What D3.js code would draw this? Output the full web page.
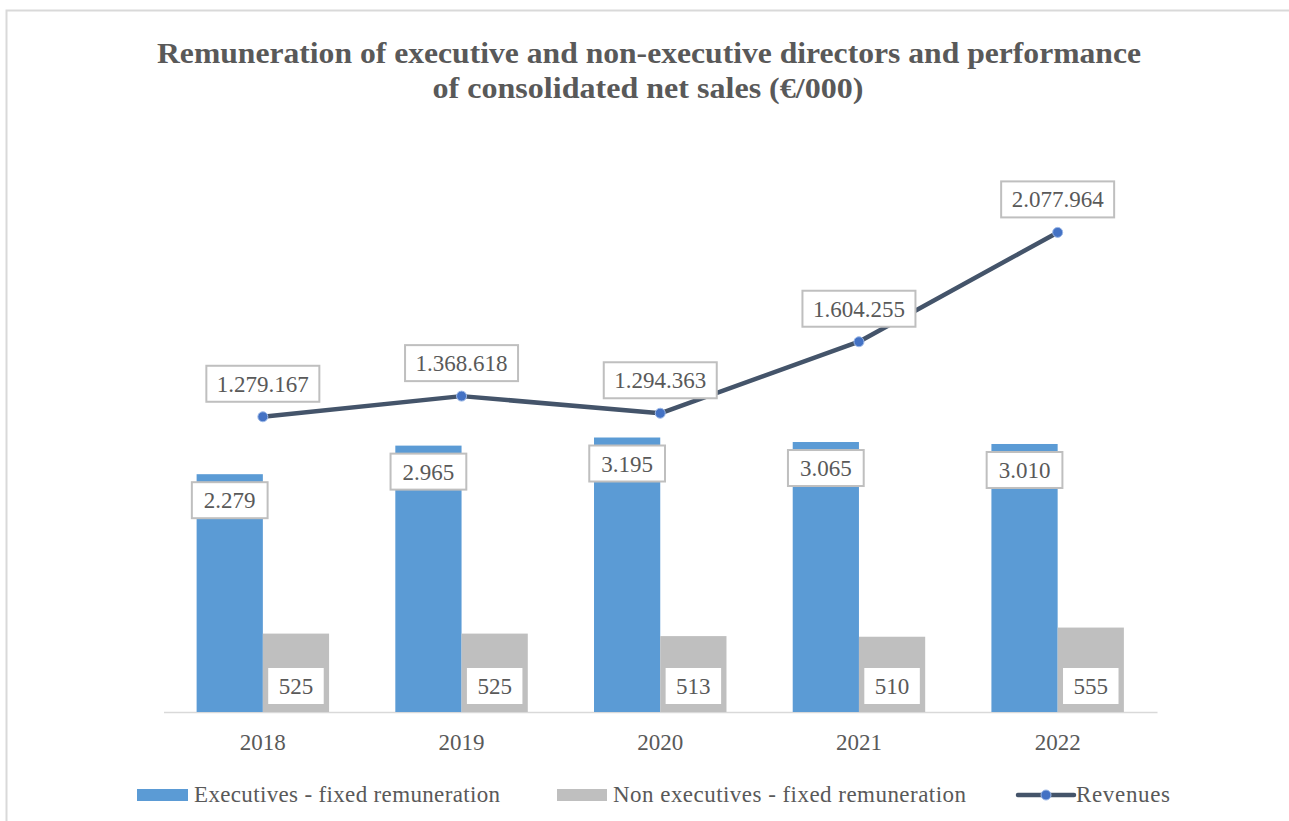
<!DOCTYPE html>
<html lang="en">
<head>
    <meta charset="UTF-8">
    <title>Remuneration of directors and net sales</title>
    <script src="https://d3js.org/d3.v7.min.js"></script>
    <style>
        html, body {
            margin: 0;
            padding: 0;
            background: #fff;
        }
        svg text {
            font-family: "Liberation Serif", "Times New Roman", serif;
            fill: #595959;
        }
    </style>
</head>
<body>
    <svg id="chart" width="1289" height="821"></svg>

    <script>
        // data (€/000)
        const years = ["2018", "2019", "2020", "2021", "2022"];
        const executives = [2279, 2965, 3195, 3065, 3010];
        const nonExecutives = [525, 525, 513, 510, 555];
        const revenues = [1279167, 1368618, 1294363, 1604255, 2077964];
        const seriesNames = ["Executives - fixed remuneration", "Non executives - fixed remuneration", "Revenues"];
        const titleLines = [
            "Remuneration of executive and non-executive directors and performance",
            "of consolidated net sales (€/000)"
        ];

        const colors = { exec: "#5B9BD5", nonExec: "#BFBFBF", line: "#44546A", marker: "#4472C4" };

        const svg = d3.select("#chart");
        const plot = { left: 163.5, right: 1157, top: 135, bottom: 712 };

        // numbers use "." as thousands separator
        const fmt = d3.formatLocale({ decimal: ",", thousands: ".", grouping: [3], currency: ["€", ""] }).format(",d");

        // outer frame
        svg.append("rect")
            .attr("x", 6.5).attr("y", 10.5)
            .attr("width", 1400).attr("height", 900)
            .attr("fill", "none")
            .attr("stroke", "#D9D9D9")
            .attr("stroke-width", 2);

        // title
        svg.append("text")
            .attr("x", 649).attr("y", 63)
            .attr("text-anchor", "middle")
            .style("font-size", "29px").style("font-weight", "bold")
            .attr("textLength", 984).attr("lengthAdjust", "spacingAndGlyphs")
            .text(titleLines[0]);
        svg.append("text")
            .attr("x", 648).attr("y", 98)
            .attr("text-anchor", "middle")
            .style("font-size", "29px").style("font-weight", "bold")
            .attr("textLength", 431).attr("lengthAdjust", "spacingAndGlyphs")
            .text(titleLines[1]);

        // scales
        const x = d3.scaleBand().domain(years).range([plot.left, plot.right]).padding(0);
        const xSub = d3.scaleBand().domain(["exec", "nonExec"]).range([0, x.bandwidth()])
            .paddingInner(0).paddingOuter(0.5);
        // bars are not drawn proportionally in the original, a log scale comes closest
        const yBar = d3.scaleLog().domain([255, 3300]).range([plot.bottom, 434]);
        const yLine = d3.scaleLinear().domain([0, 2500000]).range([plot.bottom, plot.top]);

        // x axis
        const xAxis = svg.append("g")
            .attr("transform", `translate(0,${plot.bottom})`)
            .call(d3.axisBottom(x).tickSize(0).tickPadding(22));
        xAxis.select(".domain").attr("stroke", "#D9D9D9").attr("stroke-width", 1.5);
        xAxis.selectAll("text").style("font-size", "23px").style("fill", "#595959")
            .style("font-family", "'Liberation Serif', serif");

        const barData = years.map((y, i) => ({ year: y, exec: executives[i], nonExec: nonExecutives[i] }));

        const groups = svg.append("g").selectAll("g")
            .data(barData)
            .join("g")
            .attr("transform", d => `translate(${x(d.year)},0)`);

        groups.append("rect")
            .attr("x", xSub("exec"))
            .attr("width", xSub.bandwidth())
            .attr("y", d => yBar(d.exec))
            .attr("height", d => plot.bottom - yBar(d.exec))
            .attr("fill", colors.exec);

        groups.append("rect")
            .attr("x", xSub("nonExec"))
            .attr("width", xSub.bandwidth())
            .attr("y", d => yBar(d.nonExec))
            .attr("height", d => plot.bottom - yBar(d.nonExec))
            .attr("fill", colors.nonExec);

        // boxed data label helper
        function boxLabel(g, cx, cy, txt, padX, stroke) {
            const t = g.append("text")
                .attr("x", cx).attr("y", cy + 8)
                .attr("text-anchor", "middle")
                .style("font-size", "23px")
                .text(txt);
            const w = t.node().getComputedTextLength() + padX * 2;
            g.insert("rect", "text")
                .attr("x", cx - w / 2).attr("y", cy - 18)
                .attr("width", w).attr("height", 36)
                .attr("fill", "#fff")
                .attr("stroke", stroke)
                .attr("stroke-width", stroke === "none" ? 0 : 2);
        }

        // revenues line
        const line = d3.line()
            .x((d, i) => x(years[i]) + x.bandwidth() / 2)
            .y(d => yLine(d));

        svg.append("path")
            .datum(revenues)
            .attr("d", line)
            .attr("fill", "none")
            .attr("stroke", colors.line)
            .attr("stroke-width", 4.5)
            .attr("stroke-linejoin", "round");

        svg.append("g").selectAll("circle")
            .data(revenues)
            .join("circle")
            .attr("cx", (d, i) => x(years[i]) + x.bandwidth() / 2)
            .attr("cy", d => yLine(d))
            .attr("r", 5)
            .attr("fill", colors.marker)
            .attr("stroke", "#9DB9E8")
            .attr("stroke-width", 1);

        // labels
        const labels = svg.append("g");
        barData.forEach(d => {
            const g = labels.append("g");
            boxLabel(g, x(d.year) + xSub("exec") + xSub.bandwidth() / 2, yBar(d.exec) + 26, fmt(d.exec), 12, "#BFBFBF");
            const g2 = labels.append("g");
            boxLabel(g2, x(d.year) + xSub("nonExec") + xSub.bandwidth() / 2, plot.bottom - 26, fmt(d.nonExec), 10.5, "none");
        });
        revenues.forEach((v, i) => {
            const g = labels.append("g");
            boxLabel(g, x(years[i]) + x.bandwidth() / 2, yLine(v) - 33, fmt(v), 10.5, "#BFBFBF");
        });

        // legend
        const legend = svg.append("g");
        const legY = 795;
        legend.append("rect").attr("x", 137).attr("y", legY - 6).attr("width", 51).attr("height", 12).attr("fill", colors.exec);
        legend.append("text").attr("x", 194).attr("y", legY + 7).style("font-size", "23px")
            .attr("textLength", 306).attr("lengthAdjust", "spacing").text(seriesNames[0]);
        legend.append("rect").attr("x", 557).attr("y", legY - 6).attr("width", 50).attr("height", 12).attr("fill", colors.nonExec);
        legend.append("text").attr("x", 613).attr("y", legY + 7).style("font-size", "23px")
            .attr("textLength", 353).attr("lengthAdjust", "spacing").text(seriesNames[1]);
        legend.append("line").attr("x1", 1018).attr("x2", 1074).attr("y1", legY).attr("y2", legY)
            .attr("stroke", colors.line).attr("stroke-width", 4.5).attr("stroke-linecap", "round");
        legend.append("circle").attr("cx", 1046).attr("cy", legY).attr("r", 5)
            .attr("fill", colors.marker).attr("stroke", "#9DB9E8").attr("stroke-width", 1);
        legend.append("text").attr("x", 1076).attr("y", legY + 7).style("font-size", "23px")
            .attr("textLength", 94).attr("lengthAdjust", "spacing").text(seriesNames[2]);
    </script>
</body>
</html>
